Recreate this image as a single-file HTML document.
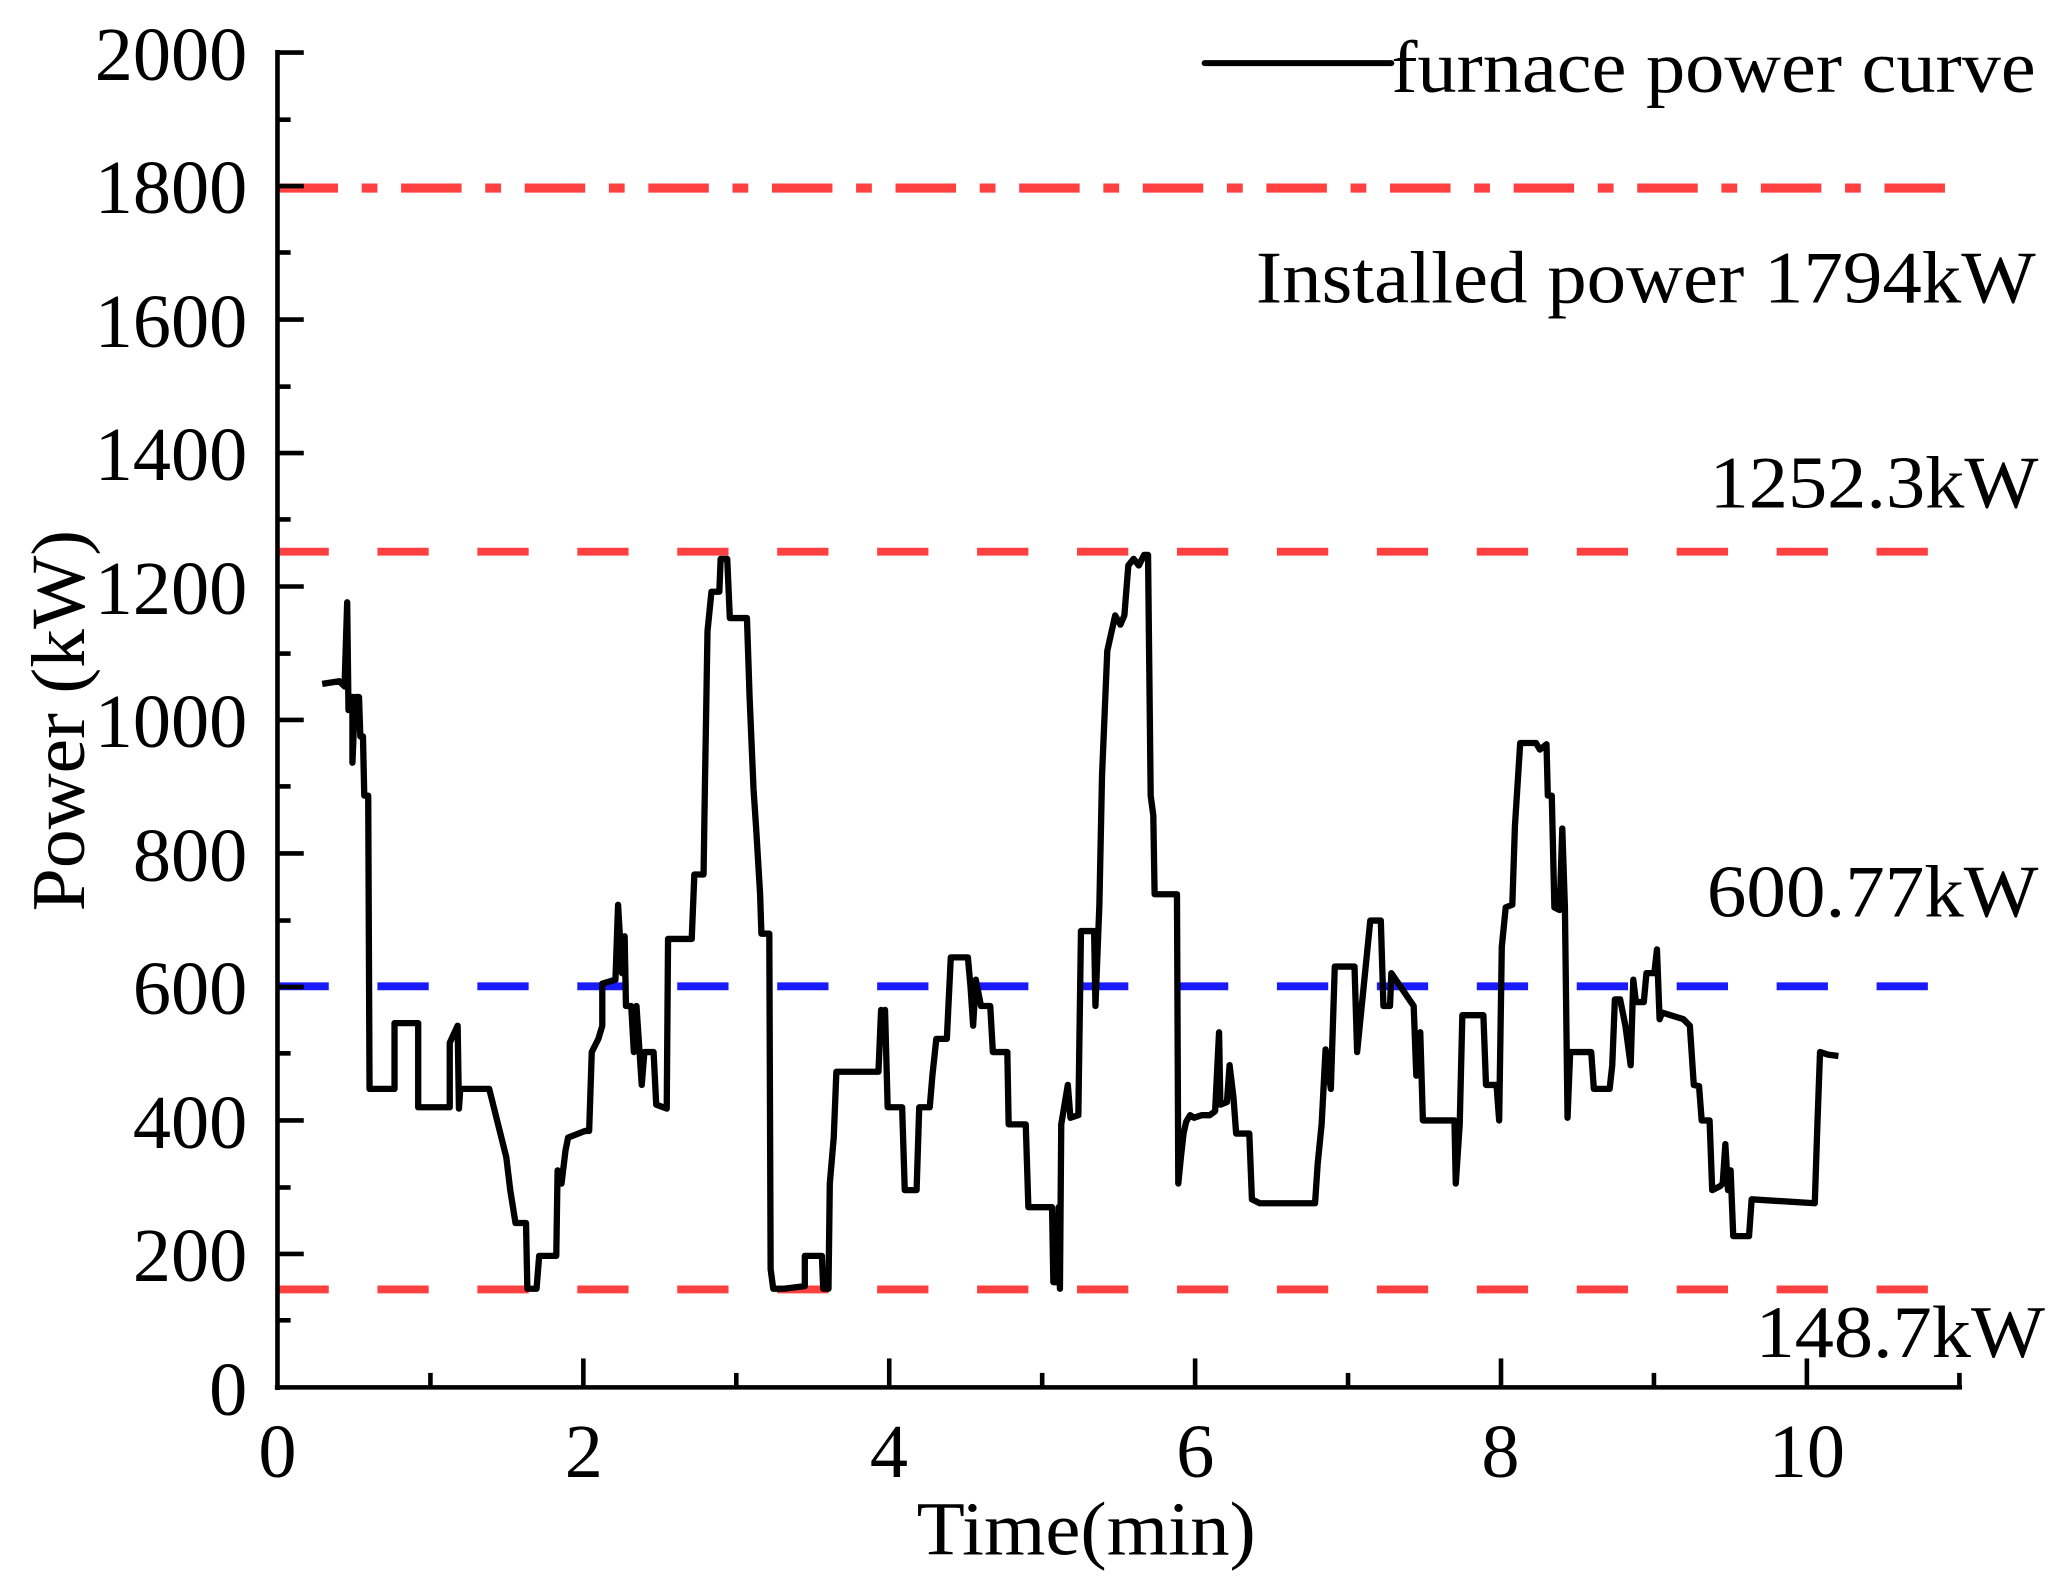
<!DOCTYPE html>
<html><head><meta charset="utf-8"><style>html,body{margin:0;padding:0;background:#fff;}svg{display:block}</style></head>
<body>
<svg width="2062" height="1582" viewBox="0 0 1568 1203" preserveAspectRatio="none" xmlns="http://www.w3.org/2000/svg" font-family="'Liberation Serif', serif">
<rect width="1568" height="1203" fill="#fff"/>
<line x1="211" y1="143" x2="1495" y2="143" stroke="#ff4040" stroke-width="7" stroke-dasharray="46 18 12 18"/>
<line x1="211" y1="419.5" x2="1480" y2="419.5" stroke="#ff4040" stroke-width="6" stroke-dasharray="39 37"/>
<line x1="211" y1="750" x2="1480" y2="750" stroke="#1a1aff" stroke-width="6" stroke-dasharray="39 37"/>
<line x1="211" y1="980.5" x2="1480" y2="980.5" stroke="#ff4040" stroke-width="6" stroke-dasharray="39 37"/>
<polyline fill="none" stroke="#000" stroke-width="4.8" stroke-linejoin="round" points="245,520 258,518 262,522 264,458 265,540 268,530 268,580 270,530 273,530 274,560 276,560 277,605 280,605 281,828 300,828 300,778 318,778 318,842 342,842 342,793 348,780 349,843 350,828 372,828 385,880 388,905 392,930 400,930 401,980 408,980 410,955 423,955 424,890 427,900 430,875 432,865 445,860 448,860 450,800 455,790 458,780 458,748 468,745 470,688 473,740 475,712 476,765 480,765 482,800 484,765 488,825 490,800 497,800 499,840 507,843 508,714 526,714 528,665 535,665 536,600 538,480 541,450 547,450 548,425 553,425 555,470 568,470 570,530 573,600 575,630 578,680 579,710 585,710 586,965 588,980 596,980 612,978 612,955 625,955 626,980 630,980 631,900 634,865 636,815 668,815 670,768 671,790 673,768 675,842 686,842 688,905 697,905 699,842 707,842 709,818 712,790 720,790 723,728 736,728 738,750 740,780 742,745 746,765 753,765 755,800 766,800 767,855 780,855 782,918 800,918 801,975 804,975 805,918 806,980 807,855 812,825 814,850 820,848 822,708 832,708 833,765 836,688 838,590 842,495 848,468 852,475 855,468 858,430 862,425 866,430 870,422 873,422 875,605 877,620 878,680 895,680 896,900 898,880 900,862 902,853 905,848 908,850 914,848 920,848 924,845 927,785 928,840 933,838 935,810 938,835 940,862 950,862 952,912 958,915 1000,915 1002,885 1005,855 1008,798 1012,828 1015,735 1030,735 1032,800 1036,760 1042,700 1050,700 1052,765 1057,765 1058,740 1075,765 1077,818 1080,785 1082,852 1106,852 1107,900 1110,855 1112,772 1128,772 1130,825 1138,825 1140,852 1142,720 1145,690 1150,688 1152,628 1156,565 1168,565 1171,570 1176,566 1177,605 1180,605 1182,690 1186,692 1188,630 1190,690 1192,850 1194,800 1210,800 1212,828 1224,828 1226,810 1228,760 1232,760 1236,780 1240,810 1242,745 1244,762 1250,762 1252,740 1258,740 1260,722 1262,775 1264,770 1280,775 1285,780 1288,825 1292,826 1294,852 1300,852 1302,905 1308,902 1310,900 1312,870 1314,905 1316,890 1318,940 1330,940 1332,912 1380,915 1382,855 1384,800 1390,802 1398,803"/>
<g stroke="#000" stroke-width="3.5">
<line x1="211" y1="38" x2="211" y2="1057"/>
<line x1="209" y1="1055" x2="1492" y2="1055"/>
<line x1="211" y1="40" x2="231" y2="40"/><line x1="211" y1="91" x2="221" y2="91"/>
<line x1="211" y1="141.5" x2="231" y2="141.5"/><line x1="211" y1="192" x2="221" y2="192"/>
<line x1="211" y1="243" x2="231" y2="243"/><line x1="211" y1="294" x2="221" y2="294"/>
<line x1="211" y1="344.5" x2="231" y2="344.5"/><line x1="211" y1="395" x2="221" y2="395"/>
<line x1="211" y1="446" x2="231" y2="446"/><line x1="211" y1="497" x2="221" y2="497"/>
<line x1="211" y1="547.5" x2="231" y2="547.5"/><line x1="211" y1="598" x2="221" y2="598"/>
<line x1="211" y1="649" x2="231" y2="649"/><line x1="211" y1="700" x2="221" y2="700"/>
<line x1="211" y1="750.5" x2="231" y2="750.5"/><line x1="211" y1="801" x2="221" y2="801"/>
<line x1="211" y1="852" x2="231" y2="852"/><line x1="211" y1="903" x2="221" y2="903"/>
<line x1="211" y1="953.5" x2="231" y2="953.5"/><line x1="211" y1="1004" x2="221" y2="1004"/>
<line x1="327.3" y1="1055" x2="327.3" y2="1044"/><line x1="443.6" y1="1055" x2="443.6" y2="1033"/>
<line x1="559.9" y1="1055" x2="559.9" y2="1044"/><line x1="676.2" y1="1055" x2="676.2" y2="1033"/>
<line x1="792.5" y1="1055" x2="792.5" y2="1044"/><line x1="908.8" y1="1055" x2="908.8" y2="1033"/>
<line x1="1025.1" y1="1055" x2="1025.1" y2="1044"/><line x1="1141.4" y1="1055" x2="1141.4" y2="1033"/>
<line x1="1257.7" y1="1055" x2="1257.7" y2="1044"/><line x1="1374" y1="1055" x2="1374" y2="1033"/>
<line x1="1490" y1="1055" x2="1490" y2="1044"/>
</g>
<g font-size="58" text-anchor="end" fill="#000">
<text x="188" y="61">2000</text><text x="188" y="162">1800</text><text x="188" y="264">1600</text>
<text x="188" y="365">1400</text><text x="188" y="467">1200</text><text x="188" y="568">1000</text>
<text x="188" y="670">800</text><text x="188" y="771">600</text><text x="188" y="873">400</text>
<text x="188" y="974">200</text><text x="188" y="1076">0</text>
</g>
<g font-size="58" text-anchor="middle" fill="#000">
<text x="211" y="1123">0</text><text x="444" y="1123">2</text><text x="676" y="1123">4</text>
<text x="909" y="1123">6</text><text x="1141" y="1123">8</text><text x="1374" y="1123">10</text>
</g>
<text x="826" y="1182" font-size="58" text-anchor="middle" textLength="258" lengthAdjust="spacingAndGlyphs">Time(min)</text>
<text transform="translate(64,548) rotate(-90)" font-size="58" text-anchor="middle" textLength="290" lengthAdjust="spacingAndGlyphs">Power (kW)</text>
<line x1="916" y1="48" x2="1058" y2="48" stroke="#000" stroke-width="4.5" stroke-linecap="round"/>
<g font-size="56" fill="#000">
<text x="1058" y="70" textLength="490" lengthAdjust="spacingAndGlyphs">furnace power curve</text>
<text x="955" y="230" textLength="593" lengthAdjust="spacingAndGlyphs">Installed power 1794kW</text>
<text x="1300" y="386" textLength="250" lengthAdjust="spacingAndGlyphs">1252.3kW</text>
<text x="1298" y="697" textLength="252" lengthAdjust="spacingAndGlyphs">600.77kW</text>
<text x="1335" y="1032" textLength="220" lengthAdjust="spacingAndGlyphs">148.7kW</text>
</g>
</svg>
</body></html>
